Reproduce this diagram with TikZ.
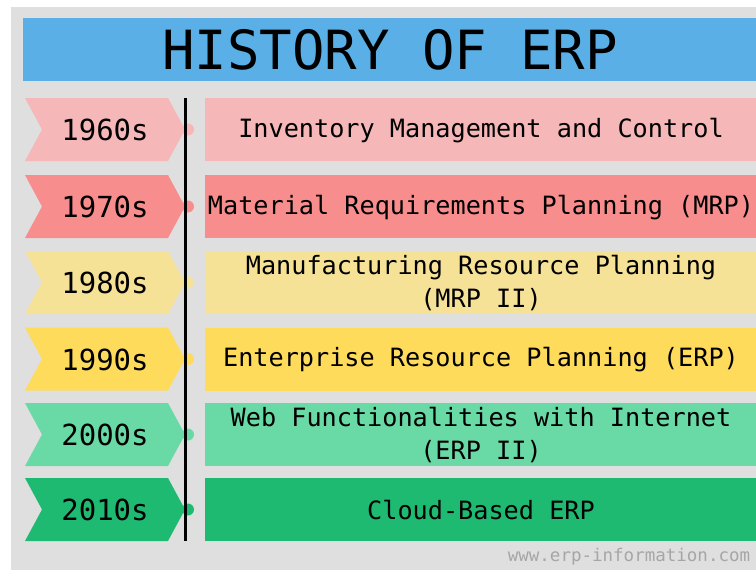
\documentclass[tikz,border=0pt]{standalone}
\usepackage{fontspec}
\setmonofont{DejaVu Sans Mono}
\definecolor{bggray}{HTML}{DFDFDF}
\definecolor{titleblue}{HTML}{59AFE6}
\definecolor{cA}{HTML}{F5B7B7}
\definecolor{cB}{HTML}{F78D8C}
\definecolor{cC}{HTML}{F6E297}
\definecolor{cD}{HTML}{FEDB5B}
\definecolor{cE}{HTML}{69D9A5}
\definecolor{cF}{HTML}{1FBA72}
\definecolor{footgray}{HTML}{A6A6A6}
\tikzset{
  yearlbl/.style={font=\ttfamily\fontsize{29}{30}\selectfont, inner sep=0pt},
  boxtxt/.style={font=\ttfamily\fontsize{25.2}{33}\selectfont, align=center, inner sep=0pt},
  dotnode/.style={circle, minimum size=12pt, inner sep=0pt},
}
\newcommand{\erprow}[4]{%
  % #1 top y, #2 colour, #3 year, #4 text ; row height 63
  \pgfmathsetmacro{\rowtop}{#1}\pgfmathsetmacro{\rowbot}{#1+63}\pgfmathsetmacro{\rowmid}{#1+31.5}
  \fill[#2] (25,\rowtop) -- (168,\rowtop) -- (185,\rowmid) -- (168,\rowbot) -- (25,\rowbot) -- (42,\rowmid) -- cycle;
  \node[dotnode, fill=#2] (dot#3) at (188,\rowmid) {};
  \fill[#2] (205,\rowtop) rectangle (756,\rowbot);
  \node[yearlbl] (year#3) at (105,\rowmid+0.5) {#3};
  \node[boxtxt] (text#3) at (481,\rowmid+1) {#4};
}
\begin{document}
\begin{tikzpicture}[x=1pt,y=-1pt]
\useasboundingbox (0,0) rectangle (756,570);
\fill[white] (0,0) rectangle (756,570);
\fill[bggray] (11,7) rectangle (756,570);
\fill[titleblue] (23,18) rectangle (756,80.5);
\node[font=\ttfamily\fontsize{54}{55}\selectfont, inner sep=0pt] (title) at (390,49.5) {HISTORY OF ERP};
\erprow{98}{cA}{1960s}{Inventory Management and Control}
\erprow{175}{cB}{1970s}{Material Requirements Planning (MRP)}
\erprow{251}{cC}{1980s}{Manufacturing Resource Planning\\(MRP II)}
\erprow{327.5}{cD}{1990s}{Enterprise Resource Planning (ERP)}
\erprow{403}{cE}{2000s}{Web Functionalities with Internet\\(ERP II)}
\erprow{478}{cF}{2010s}{Cloud-Based ERP}
\coordinate (lineTop) at (185.7,98);
\coordinate (lineBot) at (185.7,541);
\draw[line width=2.6pt, black] (lineTop) -- (lineBot);
\node[font=\ttfamily\fontsize{17.5}{18}\selectfont, text=footgray, inner sep=0pt] (footer) at (629,557) {www.erp-information.com};
\end{tikzpicture}
\end{document}
